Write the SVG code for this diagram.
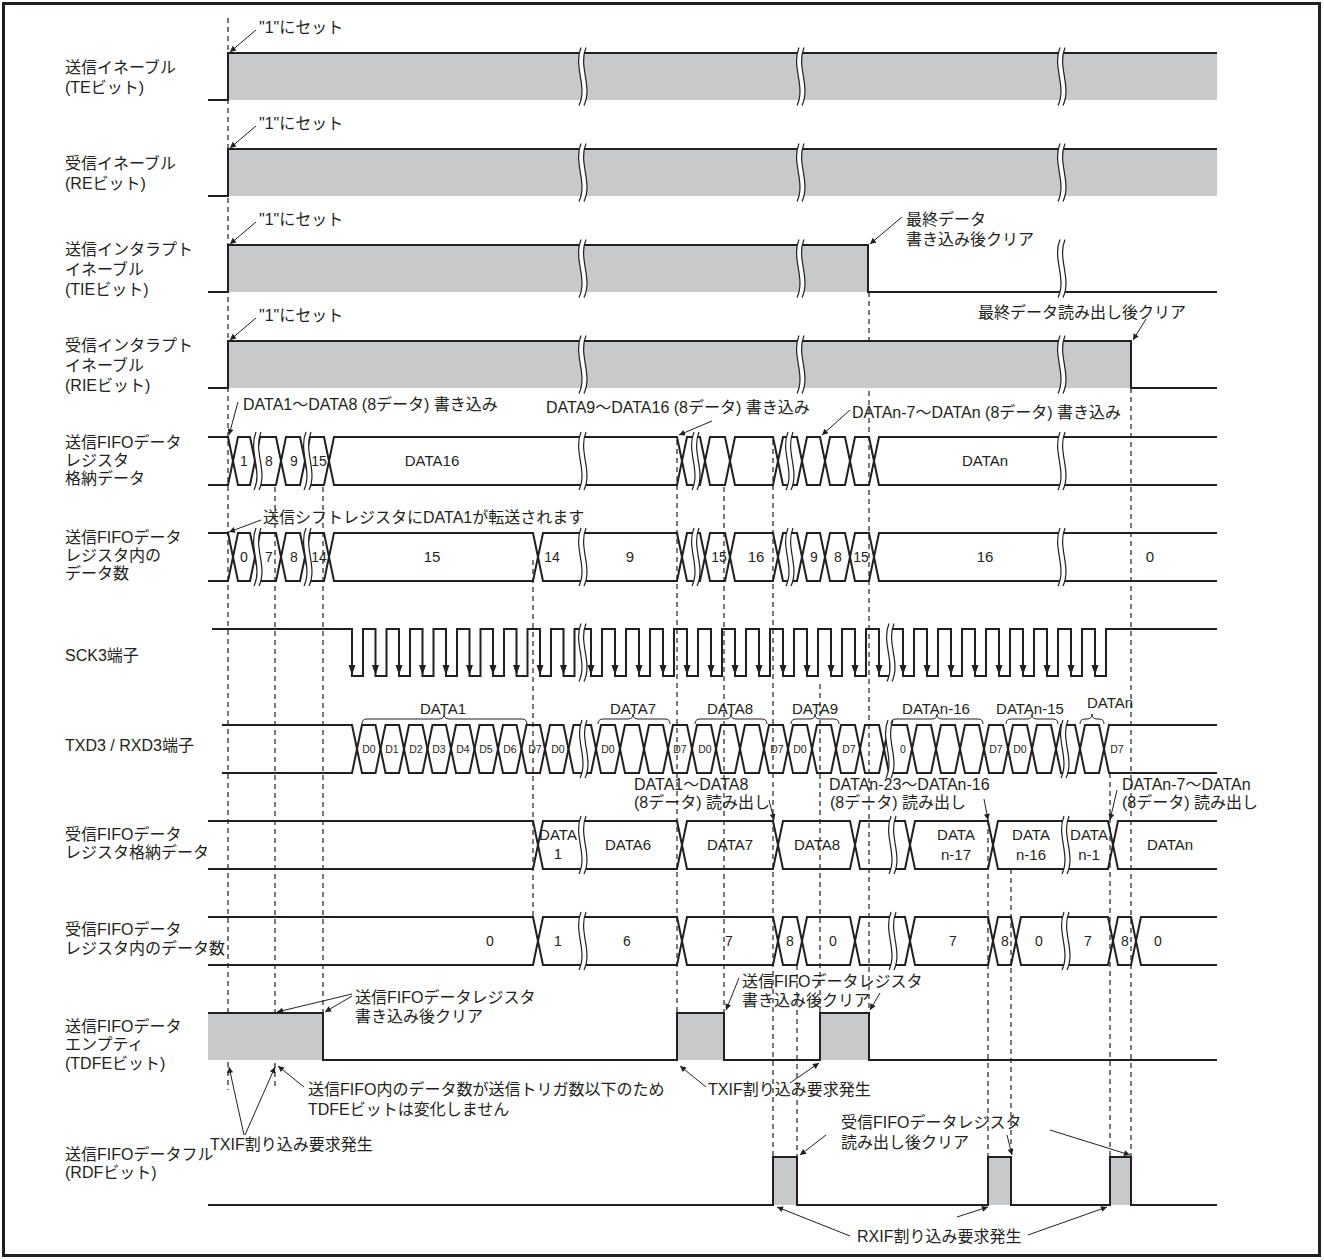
<svg xmlns="http://www.w3.org/2000/svg" width="1324" height="1260" viewBox="0 0 1324 1260">
<defs>
<style>
.s{fill:none;stroke:#231f20;stroke-width:2}
.g{fill:#c8c9cb}
.d{fill:none;stroke:#231f20;stroke-width:1.2;stroke-dasharray:5 4}
.a{fill:none;stroke:#231f20;stroke-width:1;marker-end:url(#ah)}
.br{fill:none;stroke:#231f20;stroke-width:1}
text{font-family:"Liberation Sans","Noto Sans CJK JP",sans-serif;font-size:16px;fill:#231f20}
.n{font-size:14px;text-anchor:middle}
.c{font-size:15px;text-anchor:middle}
.b{font-size:10.5px;text-anchor:middle}
</style>
<marker id="ah" viewBox="0 0 10 10" refX="10" refY="5" markerWidth="9" markerHeight="6" markerUnits="userSpaceOnUse" orient="auto"><path d="M0,0 L10,5 L0,10 z" fill="#231f20"/></marker>
<g id="bk"><path d="M2,-29 C-6,-10 9,10 0,29 L5,29 C14,10 -1,-10 7,-29 Z" fill="#fff"/><path d="M2,-29 C-6,-10 9,10 0,29" fill="none" stroke="#231f20" stroke-width="1.2"/><path d="M7,-29 C-1,-10 14,10 5,29" fill="none" stroke="#231f20" stroke-width="1.2"/></g>
<path id="ar" d="M-3.5,-10 L3.5,-10 L0,0 Z" fill="#231f20"/>
</defs>
<rect x="3.5" y="3.5" width="1316" height="1252" fill="#fff" stroke="#231f20" stroke-width="3"/>

<g id="labels">
<text x="65" y="73">送信イネーブル</text><text x="65" y="93">(TEビット)</text>
<text x="65" y="169">受信イネーブル</text><text x="65" y="189">(REビット)</text>
<text x="65" y="255">送信インタラプト</text><text x="65" y="275">イネーブル</text><text x="65" y="295">(TIEビット)</text>
<text x="65" y="351">受信インタラプト</text><text x="65" y="371">イネーブル</text><text x="65" y="391">(RIEビット)</text>
<text x="65" y="448">送信FIFOデータ</text><text x="65" y="466">レジスタ</text><text x="65" y="484">格納データ</text>
<text x="65" y="543">送信FIFOデータ</text><text x="65" y="561">レジスタ内の</text><text x="65" y="579">データ数</text>
<text x="65" y="661">SCK3端子</text>
<text x="65" y="751">TXD3 / RXD3端子</text>
<text x="65" y="840">受信FIFOデータ</text><text x="65" y="858">レジスタ格納データ</text>
<text x="65" y="935">受信FIFOデータ</text><text x="65" y="954">レジスタ内のデータ数</text>
<text x="65" y="1032">送信FIFOデータ</text><text x="65" y="1050">エンプティ</text><text x="65" y="1069">(TDFEビット)</text>
<text x="65" y="1160">送信FIFOデータフル</text><text x="65" y="1178">(RDFビット)</text>
</g>

<g id="connectors">
<path class="d" d="M228,18 V1090 M275,487 V1090 M323,487 V1013 M533,560 V917 M677,440 V1013 M724,487 V1013 M773,440 V1157 M797,965 V1157 M820,684 V1013 M869,292 V1013 M988,820 V1157 M1011,869 V1157 M1110,773 V1157 M1131,388 V1157"/>
<path class="a" d="M256,30 L230,52"/>
<path class="a" d="M256,126 L230,148"/>
<path class="a" d="M256,222 L230,244"/>
<path class="a" d="M256,318 L230,340"/>
<path class="a" d="M902,217 L870,244"/>
<path class="a" d="M1146,319 L1133,340"/>
<path class="a" d="M238,402 L229,435"/>
<path class="a" d="M712,421 L679,435"/>
<path class="a" d="M850,410 L822,435"/>
<path class="a" d="M261,520 L229,532"/>
<path class="a" d="M769,800 L774,820"/>
<path class="a" d="M984,799 L988,820"/>
<path class="a" d="M1117,790 L1110,820"/>
<path class="a" d="M352,994 L277,1012"/>
<path class="a" d="M352,996 L325,1012"/>
<path class="a" d="M304,1087 L278,1066"/>
<path class="a" d="M244,1135 L229,1067"/>
<path class="a" d="M245,1135 L275,1067"/>
<path class="a" d="M739,978 L726,1010"/>
<path class="a" d="M880,993 L870,1010"/>
<path class="a" d="M706,1087 L680,1066"/>
<path class="a" d="M790,1083 L819,1063"/>
<path class="a" d="M826,1135 L800,1155"/>
<path class="a" d="M1007,1135 L1012,1155"/>
<path class="a" d="M1050,1130 L1130,1155"/>
<path class="a" d="M850,1236 L777,1207"/>
<path class="a" d="M957,1217 L988,1207"/>
<path class="a" d="M1028,1235 L1107,1207"/>
</g>

<g id="notes">
<text x="259" y="33">"1"にセット</text>
<text x="259" y="129">"1"にセット</text>
<text x="259" y="225">"1"にセット</text>
<text x="259" y="321">"1"にセット</text>
<text x="906" y="225">最終データ</text><text x="906" y="245">書き込み後クリア</text>
<text x="978" y="318">最終データ読み出し後クリア</text>
<text x="243" y="410">DATA1～DATA8 (8データ) 書き込み</text>
<text x="546" y="413">DATA9～DATA16 (8データ) 書き込み</text>
<text x="852" y="418">DATAn-7～DATAn (8データ) 書き込み</text>
<text x="263" y="523">送信シフトレジスタにDATA1が転送されます</text>
<text x="634" y="790">DATA1～DATA8</text><text x="634" y="808">(8データ) 読み出し</text>
<text x="829" y="790">DATAn-23～DATAn-16</text><text x="830" y="808">(8データ) 読み出し</text>
<text x="1122" y="790">DATAn-7～DATAn</text><text x="1122" y="808">(8データ) 読み出し</text>
<text x="355" y="1003">送信FIFOデータレジスタ</text><text x="355" y="1022">書き込み後クリア</text>
<text x="308" y="1095">送信FIFO内のデータ数が送信トリガ数以下のため</text><text x="308" y="1115">TDFEビットは変化しません</text>
<text x="210" y="1150">TXIF割り込み要求発生</text>
<text x="742" y="987">送信FIFOデータレジスタ</text><text x="742" y="1006">書き込み後クリア</text>
<text x="708" y="1095">TXIF割り込み要求発生</text>
<text x="841" y="1128">受信FIFOデータレジスタ</text><text x="841" y="1148">読み出し後クリア</text>
<text x="857" y="1242">RXIF割り込み要求発生</text>
</g>

<g id="te">
<rect class="g" x="228" y="53" width="989" height="47"/>
<path class="s" d="M208,100 H228 V53 H1217"/>
<use href="#bk" x="579" y="76.5"/><use href="#bk" x="797" y="76.5"/><use href="#bk" x="1058" y="76.5"/>
</g>
<g id="re">
<rect class="g" x="228" y="149" width="989" height="47"/>
<path class="s" d="M208,196 H228 V149 H1217"/>
<use href="#bk" x="579" y="172.5"/><use href="#bk" x="797" y="172.5"/><use href="#bk" x="1058" y="172.5"/>
</g>
<g id="tie">
<rect class="g" x="228" y="245" width="640" height="47"/>
<path class="s" d="M208,292 H228 V245 H868 V292 H1217"/>
<use href="#bk" x="579" y="268.5"/><use href="#bk" x="797" y="268.5"/><use href="#bk" x="1058" y="268.5"/>
</g>
<g id="rie">
<rect class="g" x="228" y="341" width="903" height="47"/>
<path class="s" d="M208,388 H228 V341 H1131 V388 H1217"/>
<use href="#bk" x="579" y="364.5"/><use href="#bk" x="797" y="364.5"/><use href="#bk" x="1058" y="364.5"/>
</g>

<g id="txfifo-data">
<path class="s" d="M208,437 H228 L238,485 H250 L260,437 H276 L286,485 H300 L310,437 H324 L334,485 H677 L687,437 H700 L710,485 H725 L735,437 H773 L783,485 H797 L807,437 H820 L830,485 H845 L855,437 H869 L879,485 H1217"/>
<path class="s" d="M208,485 H228 L238,437 H250 L260,485 H276 L286,437 H300 L310,485 H324 L334,437 H677 L687,485 H700 L710,437 H725 L735,485 H773 L783,437 H797 L807,485 H820 L830,437 H845 L855,485 H869 L879,437 H1217"/>
<use href="#bk" x="254" y="461"/><use href="#bk" x="304" y="461"/><use href="#bk" x="579" y="461"/><use href="#bk" x="692" y="461"/><use href="#bk" x="786" y="461"/><use href="#bk" x="1058" y="461"/>
<text class="n" x="244" y="466">1</text><text class="n" x="269" y="466">8</text><text class="n" x="294" y="466">9</text><text class="n" x="319" y="466">15</text>
<text class="c" x="432" y="466">DATA16</text><text class="c" x="985" y="466">DATAn</text>
</g>

<g id="txfifo-count">
<path class="s" d="M208,533 H228 L238,581 H250 L260,533 H276 L286,581 H300 L310,533 H324 L334,581 H533 L543,533 H677 L687,581 H700 L710,533 H725 L735,581 H773 L783,533 H797 L807,581 H820 L830,533 H845 L855,581 H869 L879,533 H1217"/>
<path class="s" d="M208,581 H228 L238,533 H250 L260,581 H276 L286,533 H300 L310,581 H324 L334,533 H533 L543,581 H677 L687,533 H700 L710,581 H725 L735,533 H773 L783,581 H797 L807,533 H820 L830,581 H845 L855,533 H869 L879,581 H1217"/>
<use href="#bk" x="254" y="557"/><use href="#bk" x="304" y="557"/><use href="#bk" x="579" y="557"/><use href="#bk" x="692" y="557"/><use href="#bk" x="786" y="557"/><use href="#bk" x="1058" y="557"/>
<text class="n" x="244" y="562">0</text><text class="n" x="269" y="562">7</text><text class="n" x="294" y="562">8</text><text class="n" x="319" y="562">14</text>
<text class="c" x="432" y="562">15</text><text class="n" x="552" y="562">14</text><text class="c" x="630" y="562">9</text>
<text class="n" x="719" y="562">15</text><text class="c" x="756" y="562">16</text><text class="n" x="814" y="562">9</text><text class="n" x="838" y="562">8</text><text class="n" x="861" y="562">15</text>
<text class="c" x="985" y="562">16</text><text class="c" x="1150" y="562">0</text>
</g>

<g id="sck">
<path class="s" d="M212,629 H352 V676 H363 V629 H375.5 V676 H386.5 V629 H399 V676 H410 V629 H422.5 V676 H433.5 V629 H446 V676 H457 V629 H469.5 V676 H480.5 V629 H493 V676 H504 V629 H516.5 V676 H527.5 V629 H540 V676 H551 V629 H563.5 V676 H574.5 V629 H591 V676 H602 V629 H615 V676 H626 V629 H639 V676 H650 V629 H663 V676 H674 V629 H687 V676 H698 V629 H711 V676 H722 V629 H735 V676 H746 V629 H759 V676 H770 V629 H783 V676 H794 V629 H807 V676 H818 V629 H831 V676 H842 V629 H855 V676 H866 V629 H879 V676 H890 V629 H903 V676 H914 V629 H927 V676 H938 V629 H951 V676 H962 V629 H975 V676 H986 V629 H999 V676 H1010 V629 H1023 V676 H1034 V629 H1047 V676 H1058 V629 H1071 V676 H1082 V629 H1095 V676 H1106 V629 H1217"/>
<use href="#ar" x="352" y="675"/><use href="#ar" x="375.5" y="675"/><use href="#ar" x="399" y="675"/><use href="#ar" x="422.5" y="675"/><use href="#ar" x="446" y="675"/><use href="#ar" x="469.5" y="675"/><use href="#ar" x="493" y="675"/><use href="#ar" x="516.5" y="675"/><use href="#ar" x="540" y="675"/><use href="#ar" x="563.5" y="675"/>
<use href="#ar" x="591" y="675"/><use href="#ar" x="615" y="675"/><use href="#ar" x="639" y="675"/><use href="#ar" x="663" y="675"/><use href="#ar" x="687" y="675"/><use href="#ar" x="711" y="675"/><use href="#ar" x="735" y="675"/><use href="#ar" x="759" y="675"/><use href="#ar" x="783" y="675"/><use href="#ar" x="807" y="675"/><use href="#ar" x="831" y="675"/><use href="#ar" x="855" y="675"/><use href="#ar" x="879" y="675"/>
<use href="#ar" x="903" y="675"/><use href="#ar" x="927" y="675"/><use href="#ar" x="951" y="675"/><use href="#ar" x="975" y="675"/><use href="#ar" x="999" y="675"/><use href="#ar" x="1023" y="675"/><use href="#ar" x="1047" y="675"/><use href="#ar" x="1071" y="675"/><use href="#ar" x="1095" y="675"/>
<use href="#bk" x="579" y="652.5"/><use href="#bk" x="887" y="652.5"/>
</g>

<g id="txd">
<path class="s" d="M222,725 H352 L362,773 H375.5 L385.5,725 H399 L409,773 H422.5 L432.5,725 H446 L456,773 H469.5 L479.5,725 H493 L503,773 H516.5 L526.5,725 H540 L550,773 H563.5 L573.5,725 H591 L601,773 H615 L625,725 H639 L649,773 H663 L673,725 H687 L697,773 H711 L721,725 H735 L745,773 H759 L769,725 H783 L793,773 H807 L817,725 H831 L841,773 H855 L865,725 H879 L889,773 H907 L917,725 H931 L941,773 H955 L965,725 H979 L989,773 H1003 L1013,725 H1027 L1037,773 H1051 L1061,725 H1075 L1085,773 H1099 L1109,725 H1217"/>
<path class="s" d="M222,773 H352 L362,725 H375.5 L385.5,773 H399 L409,725 H422.5 L432.5,773 H446 L456,725 H469.5 L479.5,773 H493 L503,725 H516.5 L526.5,773 H540 L550,725 H563.5 L573.5,773 H591 L601,725 H615 L625,773 H639 L649,725 H663 L673,773 H687 L697,725 H711 L721,773 H735 L745,725 H759 L769,773 H783 L793,725 H807 L817,773 H831 L841,725 H855 L865,773 H879 L889,725 H907 L917,773 H931 L941,725 H955 L965,773 H979 L989,725 H1003 L1013,773 H1027 L1037,725 H1051 L1061,773 H1075 L1085,725 H1099 L1109,773 H1217"/>
<use href="#bk" x="580" y="749"/><use href="#bk" x="886" y="749"/><use href="#bk" x="1061" y="749"/>
<text class="b" x="369" y="753">D0</text><text class="b" x="392" y="753">D1</text><text class="b" x="416" y="753">D2</text><text class="b" x="439" y="753">D3</text><text class="b" x="463" y="753">D4</text><text class="b" x="486" y="753">D5</text><text class="b" x="510" y="753">D6</text><text class="b" x="535" y="753">D7</text><text class="b" x="558" y="753">D0</text>
<text class="b" x="608" y="753">D0</text><text class="b" x="680" y="753">D7</text><text class="b" x="705" y="753">D0</text><text class="b" x="777" y="753">D7</text><text class="b" x="800" y="753">D0</text><text class="b" x="849" y="753">D7</text>
<text class="b" x="903" y="753">0</text><text class="b" x="996" y="753">D7</text><text class="b" x="1020" y="753">D0</text><text class="b" x="1117" y="753">D7</text>
<path class="br" d="M362,724 Q362,719 367,719 H439 Q444,719 444,714 Q444,719 449,719 H522 Q527,719 527,724"/>
<path class="br" d="M598,724 Q598,719 603,719 H628 Q633,719 633,714 Q633,719 638,719 H665 Q670,719 670,724"/>
<path class="br" d="M695,724 Q695,719 700,719 H726 Q731,719 731,714 Q731,719 736,719 H762 Q767,719 767,724"/>
<path class="br" d="M791,724 Q791,719 796,719 H810 Q815,719 815,714 Q815,719 820,719 H834 Q839,719 839,724"/>
<path class="br" d="M891,724 Q891,719 896,719 H932 Q937,719 937,714 Q937,719 942,719 H978 Q983,719 983,724"/>
<path class="br" d="M1006,724 Q1006,719 1011,719 H1027 Q1032,719 1032,714 Q1032,719 1037,719 H1053 Q1058,719 1058,724"/>
<path class="br" d="M1080,724 Q1080,719 1085,719 H1087 Q1092,719 1092,714 Q1092,719 1097,719 H1099 Q1104,719 1104,724"/>
<text class="c" x="443" y="714">DATA1</text><text class="c" x="633" y="714">DATA7</text><text class="c" x="730" y="714">DATA8</text><text class="c" x="815" y="714">DATA9</text>
<text class="c" x="936" y="714">DATAn-16</text><text class="c" x="1030" y="714">DATAn-15</text><text class="c" x="1110" y="708">DATAn</text>
</g>

<g id="rxfifo-data">
<path class="s" d="M208,821 H533 L543,869 H677 L687,821 H773 L783,869 H850 L860,821 H905 L915,869 H988 L998,821 H1108 L1118,869 H1217"/>
<path class="s" d="M208,869 H533 L543,821 H677 L687,869 H773 L783,821 H850 L860,869 H905 L915,821 H988 L998,869 H1108 L1118,821 H1217"/>
<use href="#bk" x="579" y="845"/><use href="#bk" x="889" y="845"/><use href="#bk" x="1062" y="845"/>
<text class="c" x="558" y="840">DATA</text><text class="c" x="558" y="859">1</text>
<text class="c" x="628" y="850">DATA6</text><text class="c" x="730" y="850">DATA7</text><text class="c" x="817" y="850">DATA8</text>
<text class="c" x="956" y="840">DATA</text><text class="c" x="956" y="860">n-17</text>
<text class="c" x="1031" y="840">DATA</text><text class="c" x="1031" y="860">n-16</text>
<text class="c" x="1089" y="840">DATA</text><text class="c" x="1089" y="860">n-1</text>
<text class="c" x="1170" y="850">DATAn</text>
</g>

<g id="rxfifo-count">
<path class="s" d="M208,917 H533 L543,965 H677 L687,917 H773 L783,965 H797 L807,917 H850 L860,965 H905 L915,917 H988 L998,965 H1011 L1021,917 H1108 L1118,965 H1131 L1141,917 H1217"/>
<path class="s" d="M208,965 H533 L543,917 H677 L687,965 H773 L783,917 H797 L807,965 H850 L860,917 H905 L915,965 H988 L998,917 H1011 L1021,965 H1108 L1118,917 H1131 L1141,965 H1217"/>
<use href="#bk" x="579" y="941"/><use href="#bk" x="889" y="941"/><use href="#bk" x="1062" y="941"/>
<text class="n" x="490" y="946">0</text><text class="n" x="558" y="946">1</text><text class="n" x="627" y="946">6</text><text class="n" x="729" y="946">7</text><text class="n" x="790" y="946">8</text><text class="n" x="833" y="946">0</text>
<text class="n" x="953" y="946">7</text><text class="n" x="1005" y="946">8</text><text class="n" x="1039" y="946">0</text><text class="n" x="1088" y="946">7</text><text class="n" x="1125" y="946">8</text><text class="n" x="1158" y="946">0</text>
</g>

<g id="tdfe">
<rect class="g" x="208" y="1013" width="115" height="47"/>
<rect class="g" x="677" y="1013" width="47" height="47"/>
<rect class="g" x="820" y="1013" width="49" height="47"/>
<path class="s" d="M208,1013 H323 V1060 H677 V1013 H724 V1060 H820 V1013 H869 V1060 H1217"/>
</g>

<g id="rdf">
<rect class="g" x="773" y="1157" width="24" height="48"/>
<rect class="g" x="988" y="1157" width="23" height="48"/>
<rect class="g" x="1110" y="1157" width="21" height="48"/>
<path class="s" d="M208,1205 H773 V1157 H797 V1205 H988 V1157 H1011 V1205 H1110 V1157 H1131 V1205 H1217"/>
</g>
</svg>
